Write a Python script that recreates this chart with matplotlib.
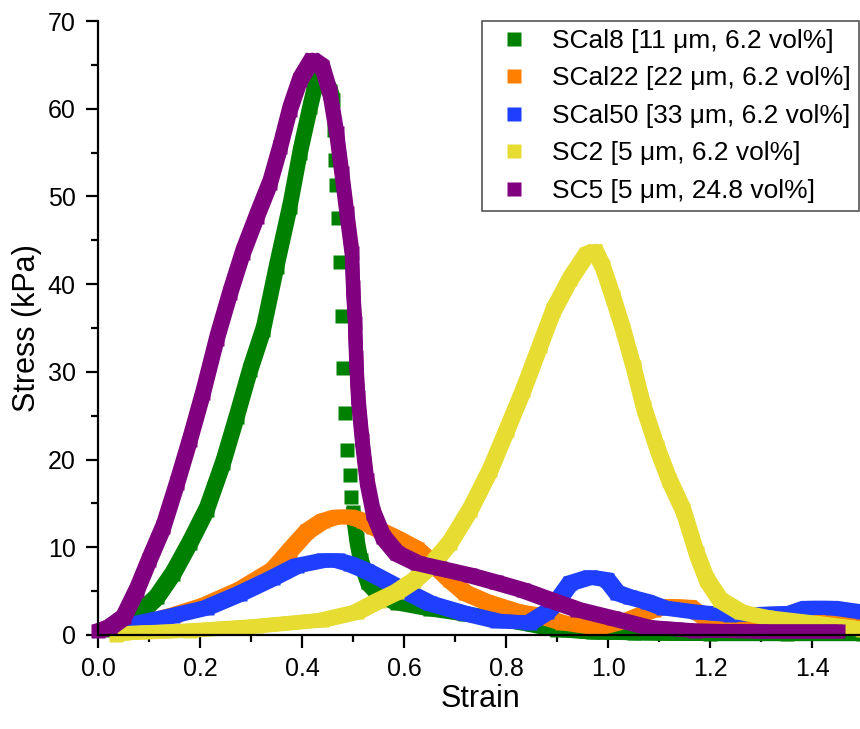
import matplotlib
matplotlib.use("Agg")
import matplotlib.pyplot as plt
import matplotlib.patheffects as pe
from matplotlib.ticker import MultipleLocator

plt.rcParams['font.family'] = ['Liberation Sans', 'DejaVu Sans']

# SCal8 [11 um, 6.2 vol%] - rising part, sparse drop, tail
scal8_rise_strain = [0.03, 0.05, 0.082, 0.115, 0.147, 0.18, 0.213, 0.245, 0.272, 0.298,
                     0.324, 0.35, 0.376, 0.396, 0.416, 0.429, 0.445, 0.455, 0.461]
scal8_rise_stress = [0.6, 1.1, 2.5, 4.3, 7.0, 10.5, 14.3, 19.6, 24.9, 30.2,
                     34.8, 42.0, 48.8, 55.0, 60.2, 63.4, 63.2, 62.0, 61.0]
scal8_drop_strain = [0.463, 0.465, 0.467, 0.47, 0.475, 0.478, 0.48, 0.484, 0.488, 0.494, 0.496]
scal8_drop_stress = [57.6, 54.2, 51.3, 47.5, 42.5, 36.4, 30.4, 25.3, 21.1, 18.2, 15.7]
scal8_tail_strain = [0.50, 0.507, 0.515, 0.53, 0.553, 0.586, 0.65, 0.72, 0.78, 0.85,
                     0.90, 0.97, 1.05, 1.2, 1.35, 1.5]
scal8_tail_stress = [14.0, 11.0, 8.5, 6.0, 4.6, 3.7, 3.0, 2.4, 1.9, 1.2,
                     0.6, 0.3, 0.2, 0.1, 0.1, 0.1]

# SCal22 [22 um, 6.2 vol%]
scal22_strain = [0.04, 0.06, 0.10, 0.15, 0.21, 0.28, 0.343, 0.376, 0.41, 0.441,
                 0.47, 0.494, 0.52, 0.54, 0.586, 0.625, 0.65, 0.69, 0.72, 0.76,
                 0.82, 0.86, 0.91, 0.98, 1.04, 1.09, 1.12, 1.16, 1.2, 1.25,
                 1.3, 1.35, 1.4, 1.5]
scal22_stress = [0.5, 1.0, 1.5, 2.3, 3.4, 5.2, 7.4, 9.6, 11.8, 13.0,
                 13.5, 13.5, 13.0, 12.3, 11.0, 9.8, 8.5, 6.3, 4.8, 3.8,
                 2.7, 2.3, 1.4, 0.8, 1.7, 2.9, 3.3, 3.2, 1.6, 1.0,
                 0.9, 1.2, 1.5, 1.4]

# SCal50 [33 um, 6.2 vol%]
scal50_strain = [0.04, 0.06, 0.082, 0.147, 0.213, 0.278, 0.343, 0.39, 0.441, 0.47,
                 0.494, 0.527, 0.586, 0.651, 0.716, 0.782, 0.847, 0.88, 0.90, 0.926,
                 0.965, 0.998, 1.018, 1.043, 1.076, 1.108, 1.174, 1.24, 1.30, 1.36,
                 1.39, 1.44, 1.5]
scal50_stress = [0.6, 1.0, 1.4, 2.2, 3.1, 4.7, 6.5, 7.9, 8.5, 8.5,
                 8.1, 7.3, 5.5, 3.6, 2.5, 1.6, 1.4, 2.6, 3.8, 5.9,
                 6.6, 6.3, 4.8, 4.3, 3.8, 3.1, 2.6, 2.3, 2.4, 2.5,
                 3.1, 3.1, 2.6]

# SC2 [5 um, 6.2 vol%]
sc2_strain = [0.035, 0.05, 0.18, 0.31, 0.44, 0.507, 0.55, 0.586, 0.62, 0.651,
              0.69, 0.73, 0.769, 0.802, 0.834, 0.867, 0.893, 0.926, 0.958, 0.975,
              0.99, 1.01, 1.03, 1.05, 1.07, 1.096, 1.12, 1.148, 1.174, 1.194,
              1.22, 1.26, 1.31, 1.4, 1.47, 1.5]
sc2_stress = [0.0, 0.2, 0.5, 1.0, 1.7, 2.6, 3.9, 4.9, 6.2, 7.8,
              10.5, 14.3, 18.8, 23.4, 27.9, 33.0, 37.0, 40.6, 43.4, 43.8,
              42.0, 38.5, 34.8, 30.6, 26.0, 21.4, 17.7, 14.2, 9.3, 6.3,
              4.0, 2.6, 2.0, 1.4, 0.9, 0.6]

# SC5 [5 um, 24.8 vol%]
sc5_strain = [0.0, 0.024, 0.05, 0.076, 0.10, 0.128, 0.155, 0.18, 0.206, 0.233,
              0.259, 0.284, 0.311, 0.337, 0.357, 0.376, 0.396, 0.42, 0.44, 0.455,
              0.468, 0.478, 0.488, 0.498, 0.50, 0.504, 0.506, 0.51, 0.518, 0.527,
              0.54, 0.559, 0.586, 0.625, 0.67, 0.73, 0.78, 0.834, 0.886, 0.94,
              1.01, 1.076, 1.17, 1.30, 1.45]
sc5_stress = [0.4, 0.9, 2.0, 5.1, 8.5, 12.3, 17.3, 22.2, 27.6, 33.8,
              39.0, 43.6, 47.7, 51.5, 55.6, 59.9, 63.3, 65.6, 64.8, 61.8,
              57.2, 52.7, 48.1, 43.6, 39.7, 35.6, 31.7, 27.1, 22.2, 17.7,
              13.9, 11.2, 9.3, 8.2, 7.6, 6.8, 6.0, 5.1, 4.0, 2.9,
              1.9, 0.9, 0.5, 0.4, 0.4]

c_green = '#008000'
c_orange = '#FF8000'
c_blue = '#1F3FFF'
c_yellow = '#E6DC32'
c_purple = '#800080'

fig = plt.figure(figsize=(8.6, 7.29), dpi=100)
ax = fig.add_axes([98 / 860, 94 / 729, 765 / 860, 614 / 729])

MS = 10  # square side in points

# a square dragged along the curve: centre stroke plus four thin corner strokes
off = 3 * MS / 8
square_sweep = [pe.Stroke(offset=(dx, dy), linewidth=MS / 4)
                for dx in (-off, off) for dy in (-off, off)] + [pe.Normal()]


def draw(x, y, color, label=None, line=True):
    if line:
        ax.plot(x, y, '-', color=color, lw=MS, solid_joinstyle='round',
                solid_capstyle='butt', clip_on=False, path_effects=square_sweep)
    ax.plot(x, y, 's', color=color, ms=MS, mec='none', clip_on=False, label=label)


draw(scal8_rise_strain, scal8_rise_stress, c_green, 'SCal8 [11 \u03bcm, 6.2 vol%]')
draw(scal8_drop_strain, scal8_drop_stress, c_green, line=False)
draw(scal8_tail_strain, scal8_tail_stress, c_green)
draw(scal22_strain, scal22_stress, c_orange, 'SCal22 [22 \u03bcm, 6.2 vol%]')
draw(scal50_strain, scal50_stress, c_blue, 'SCal50 [33 \u03bcm, 6.2 vol%]')
draw(sc2_strain, sc2_stress, c_yellow, 'SC2 [5 \u03bcm, 6.2 vol%]')
draw(sc5_strain, sc5_stress, c_purple, 'SC5 [5 \u03bcm, 24.8 vol%]')

ax.set_xlim(0, 1.5)
ax.set_ylim(0, 70)
ax.xaxis.set_major_locator(MultipleLocator(0.2))
ax.xaxis.set_minor_locator(MultipleLocator(0.1))
ax.yaxis.set_major_locator(MultipleLocator(10))
ax.yaxis.set_minor_locator(MultipleLocator(5))
ax.xaxis.set_major_formatter(lambda v, p: '%.1f' % v)

for side in ['top', 'right']:
    ax.spines[side].set_visible(False)
for side in ['left', 'bottom']:
    ax.spines[side].set_linewidth(1.6)
ax.tick_params(which='major', direction='out', length=9, width=1.6, labelsize=18, pad=7)
ax.tick_params(which='minor', direction='out', length=5, width=1.6)

ax.set_xlabel('Strain', fontsize=22, labelpad=2)
ax.set_ylabel('Stress (kPa)', fontsize=22, labelpad=4)

ax.legend(loc='upper left', bbox_to_anchor=(482 / 860, 1 - 21 / 729),
          bbox_transform=fig.transFigure, borderaxespad=0, fontsize=19,
          numpoints=1, markerscale=1, fancybox=False, framealpha=1,
          edgecolor='#555555', borderpad=0.3, handlelength=1.85,
          handletextpad=0.5, labelspacing=0.51)
ax.get_legend().get_frame().set_linewidth(1.2)

fig.savefig('out.png', dpi=100)
